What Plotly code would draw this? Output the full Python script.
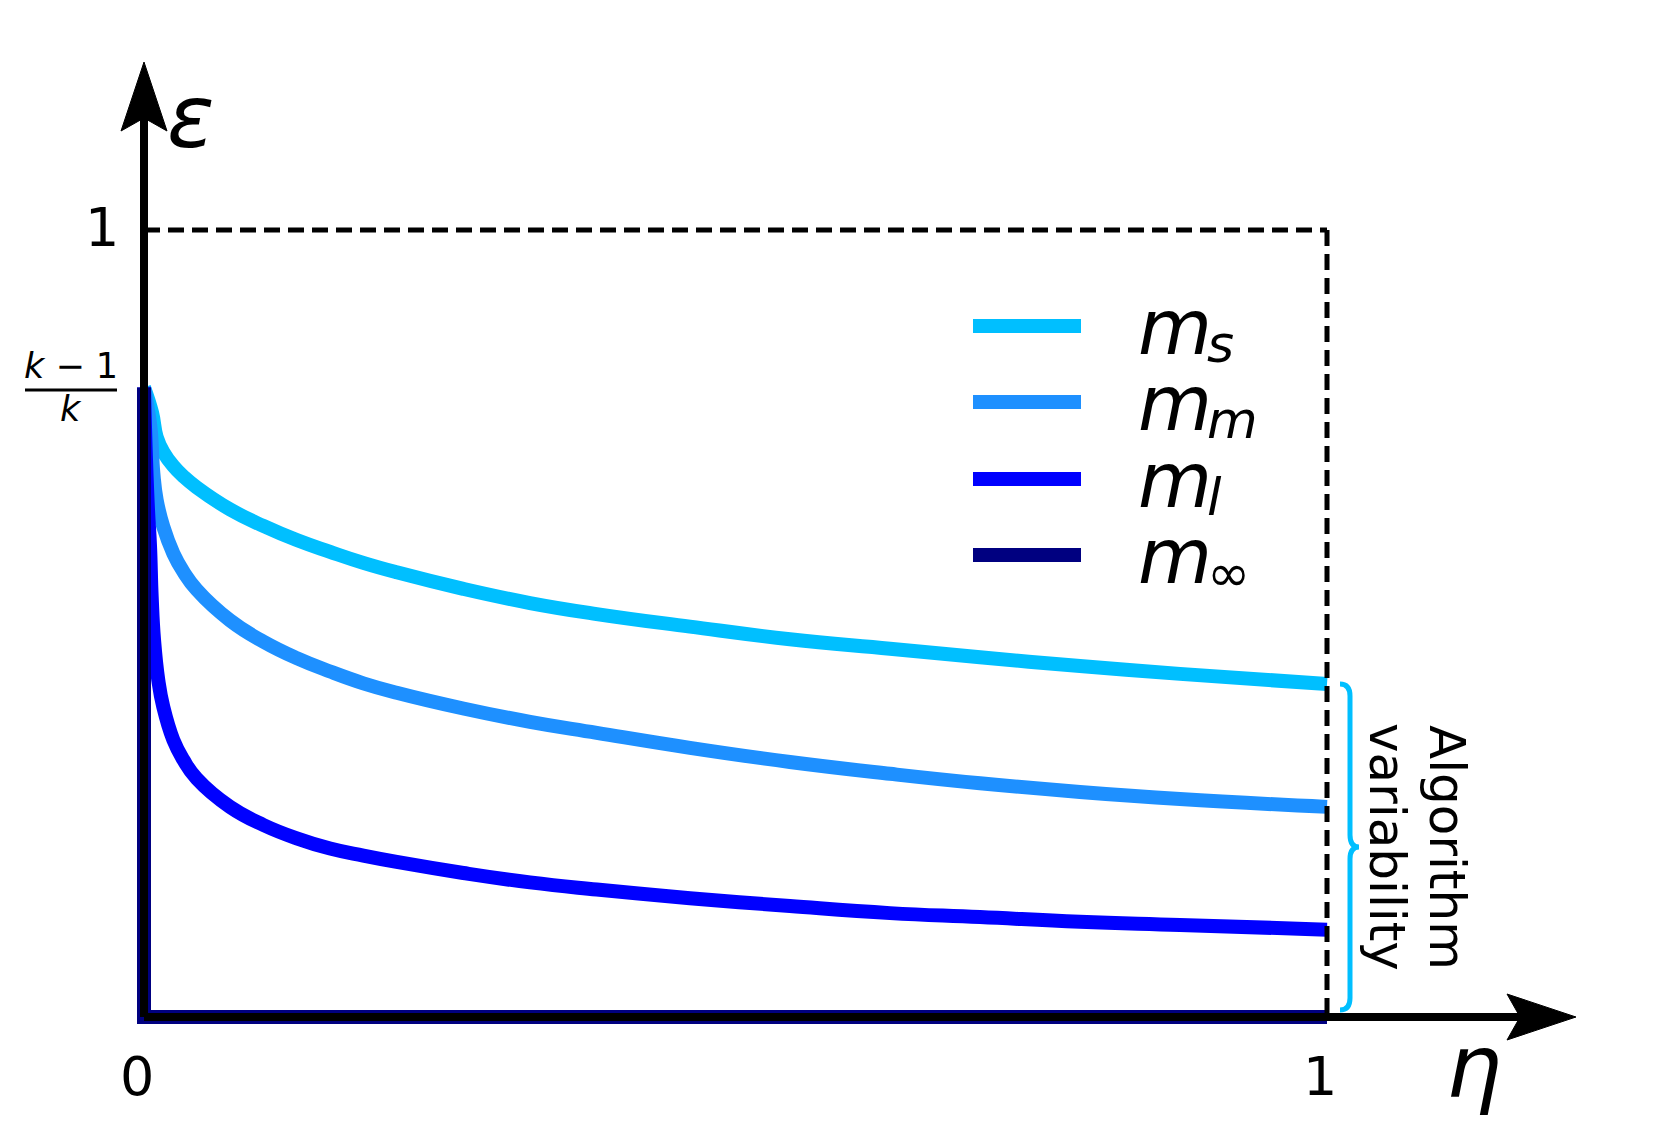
import plotly.graph_objects as go

# ---------------- data ----------------
k_frac = 0.80  # (k-1)/k level where every curve starts

ms_x = [0.0, 0.0068, 0.0107, 0.0163, 0.0248, 0.0332, 0.0445, 0.0727, 0.1009, 0.1291,
        0.1573, 0.1854, 0.2136, 0.2699, 0.3263, 0.3827, 0.4615, 0.546, 0.6306, 0.7067,
        0.7912, 0.8757, 1.0]
ms_y = [0.800, 0.768, 0.737, 0.718, 0.700, 0.687, 0.673, 0.645, 0.624, 0.606,
        0.591, 0.577, 0.565, 0.544, 0.526, 0.512, 0.496, 0.480, 0.468, 0.457,
        0.446, 0.436, 0.423]

mm_x = [0.0, 0.0034, 0.0057, 0.0079, 0.0107, 0.0163, 0.0248, 0.0332, 0.0445, 0.0727,
        0.1009, 0.1291, 0.1573, 0.1854, 0.2136, 0.2699, 0.3263, 0.3827, 0.4615, 0.546,
        0.6306, 0.7067, 0.7912, 0.8757, 1.0]
mm_y = [0.800, 0.771, 0.746, 0.691, 0.657, 0.623, 0.589, 0.566, 0.543, 0.504,
        0.477, 0.456, 0.439, 0.424, 0.412, 0.392, 0.375, 0.361, 0.342, 0.324,
        0.309, 0.297, 0.286, 0.277, 0.267]

ml_x = [0.0, 0.0017, 0.0034, 0.0051, 0.0065, 0.0085, 0.0121, 0.0163, 0.0248, 0.0332,
        0.0445, 0.0727, 0.1009, 0.1291, 0.1573, 0.1854, 0.2136, 0.2699, 0.3263, 0.3827,
        0.4615, 0.546, 0.6306, 0.7067, 0.7912, 0.8757, 1.0]
ml_y = [0.800, 0.708, 0.644, 0.598, 0.534, 0.479, 0.428, 0.394, 0.352, 0.327,
        0.303, 0.267, 0.244, 0.227, 0.214, 0.205, 0.197, 0.183, 0.171, 0.162,
        0.151, 0.141, 0.132, 0.127, 0.121, 0.117, 0.111]

minf_x = [0.0, 0.0, 1.0]
minf_y = [k_frac, 0.0, 0.0]

series_names = ["m_s", "m_m", "m_l", "m_inf"]
legend_main = ["m", "m", "m", "m"]
legend_sub = ["<i>s</i>", "<i>m</i>", "<i>l</i>", "∞"]
colors = ["#00BFFF", "#1E90FF", "#0000FF", "#000080"]

x_ticks = [0, 1]
x_tick_text = ["0", "1"]
y_tick_text = "1"
annot_lines = ["Algorithm", "variability"]

# ---------------- geometry (pixel frame) ----------------
W, H = 1661, 1143
X0, X1 = 144, 1327   # pixel x of eta = 0 and eta = 1
Y0, Y1 = 1017, 230   # pixel y of eps = 0 and eps = 1
sx = X1 - X0
sy = Y0 - Y1


def px(x):
    return (x - X0) / sx


def py(y):
    return (Y0 - y) / sy


FONT = "DejaVu Sans"
LW = 14

fig = go.Figure()

for xs, ys, name, col in [(ms_x, ms_y, series_names[0], colors[0]),
                          (mm_x, mm_y, series_names[1], colors[1]),
                          (ml_x, ml_y, series_names[2], colors[2])]:
    fig.add_trace(go.Scatter(x=xs, y=ys, mode="lines", name=name,
                             line=dict(color=col, width=LW, shape="spline", smoothing=1.3),
                             showlegend=False, hoverinfo="skip"))

shapes = []
DASH = dict(color="black", width=5, dash="16px,8px")
shapes.append(dict(type="line", xref="x", yref="y", x0=0, y0=1, x1=1, y1=1, line=DASH))
shapes.append(dict(type="line", xref="x", yref="y", x0=1, y0=1, x1=1, y1=0, line=DASH))
# axis lines
shapes.append(dict(type="line", xref="x", yref="y", x0=0, y0=0, x1=0, y1=py(118),
                   line=dict(color="black", width=8)))
shapes.append(dict(type="line", xref="x", yref="y", x0=0, y0=0, x1=px(1520), y1=0,
                   line=dict(color="black", width=8)))


def path(pts, close=True):
    s = "M " + " L ".join(f"{px(a)},{py(b)}" for a, b in pts)
    return s + (" Z" if close else "")


# arrow heads
shapes.append(dict(type="path", xref="x", yref="y",
                   path=path([(144, 62), (167, 131), (144, 118), (121, 131)]),
                   fillcolor="black", line=dict(color="black", width=1)))
shapes.append(dict(type="path", xref="x", yref="y",
                   path=path([(1576, 1017), (1507, 1040), (1520, 1017), (1507, 994)]),
                   fillcolor="black", line=dict(color="black", width=1)))

# curly brace
bx_l, bx_s, bx_t = 1340, 1350, 1359
by_t, by_m, by_b = 684, 847, 1010
brace = (f"M {px(bx_l)},{py(by_t)} Q {px(bx_s)},{py(by_t)} {px(bx_s)},{py(by_t+12)} "
         f"L {px(bx_s)},{py(by_m-12)} Q {px(bx_s)},{py(by_m)} {px(bx_t)},{py(by_m)} "
         f"Q {px(bx_s)},{py(by_m)} {px(bx_s)},{py(by_m+12)} "
         f"L {px(bx_s)},{py(by_b-12)} Q {px(bx_s)},{py(by_b)} {px(bx_l)},{py(by_b)}")
shapes.append(dict(type="path", xref="x", yref="y", path=brace,
                   line=dict(color="#00BFFF", width=5)))

# fraction bar of (k-1)/k
shapes.append(dict(type="line", xref="x", yref="y", x0=px(25), y0=py(390), x1=px(117), y1=py(390),
                   line=dict(color="black", width=3)))

# legend lines
leg_y = [326, 402, 479, 555]
for yy, col in zip(leg_y, colors):
    shapes.append(dict(type="line", xref="x", yref="y", x0=px(973), y0=py(yy), x1=px(1081), y1=py(yy),
                       line=dict(color=col, width=LW)))

# m_inf drawn last, above the curves
fig.add_trace(go.Scatter(x=minf_x, y=minf_y, mode="lines", name=series_names[3],
                         line=dict(color=colors[3], width=LW),
                         showlegend=False, hoverinfo="skip"))

ann = []


def text(x, y, t, size, xanchor="center", yanchor="middle", angle=0):
    ann.append(dict(x=px(x), y=py(y), xref="x", yref="y", text=t, showarrow=False,
                    font=dict(family=FONT, size=size, color="black"),
                    xanchor=xanchor, yanchor=yanchor, textangle=angle))


# axis titles
text(191, 116, "<i>ε</i>", 88)
text(1474, 1066, "<i>η</i>", 88)
# ticks
text(102, 227, y_tick_text, 54)
for xv, tt in zip(x_ticks, x_tick_text):
    text(X0 + xv * sx - 7, 1076, tt, 54)
# (k-1)/k
text(71, 366, "<i>k</i> − 1", 35)
text(71, 409, "<i>k</i>", 35)
# legend labels (main letter + subscript)
for yy, m, s in zip(leg_y, legend_main, legend_sub):
    text(1136, yy + 1, f"<i>{m}</i>", 76, xanchor="left")
    text(1205, yy + 18, s, 52, xanchor="left")
# algorithm variability (rotated, two lines)
text(1447, 847, annot_lines[0], 50, angle=90)
text(1387, 847, annot_lines[1], 50, angle=90)

fig.update_layout(
    width=W, height=H, margin=dict(l=0, r=0, t=0, b=0),
    paper_bgcolor="white", plot_bgcolor="white",
    xaxis=dict(range=[px(0), px(W)], visible=False, fixedrange=True),
    yaxis=dict(range=[py(H), py(0)], visible=False, fixedrange=True),
    shapes=shapes, annotations=ann, showlegend=False,
)

fig.write_html("out.html", include_plotlyjs=True,
               config={"displayModeBar": False},
               post_script="document.body.style.margin='0';document.body.style.overflow='hidden';")
